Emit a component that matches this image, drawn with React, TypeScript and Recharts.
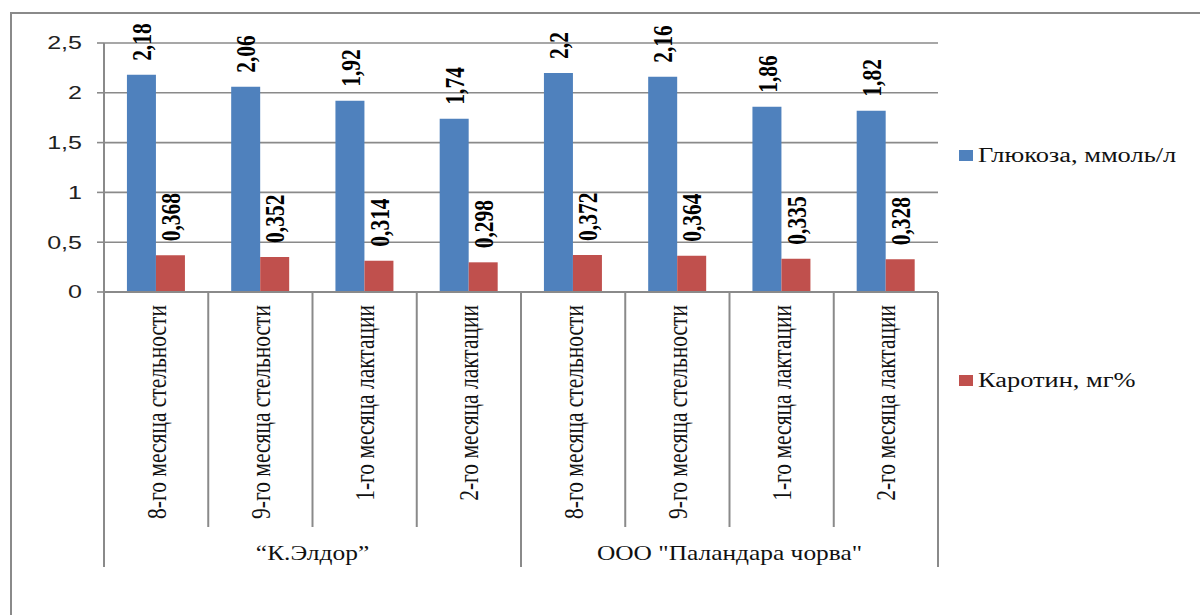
import React from 'react';
import { Bar, BarChart, CartesianGrid, LabelList, Legend, XAxis, YAxis } from 'recharts';

const categories = [
  '8-го месяца стельности',
  '9-го месяца стельности',
  '1-го месяца лактации',
  '2-го месяца лактации',
  '8-го месяца стельности',
  '9-го месяца стельности',
  '1-го месяца лактации',
  '2-го месяца лактации',
];
const farms = ['“К.Элдор”', 'ООО "Паландара  чорва"'];
const glucose = [2.18, 2.06, 1.92, 1.74, 2.2, 2.16, 1.86, 1.82];
const carotene = [0.368, 0.352, 0.314, 0.298, 0.372, 0.364, 0.335, 0.328];
const yTicks = [0, 0.5, 1, 1.5, 2, 2.5];

const data = categories.map((name, i) => ({
  name,
  farm: farms[Math.floor(i / 4)],
  glucose: glucose[i],
  carotene: carotene[i],
}));

// the source picture is stretched sideways, so text is widened to match
const STRETCH = 1.32;
const GRID = '#8a8a8a';
const SERIF = '"Liberation Serif", "Times New Roman", serif';
const SANS = '"Liberation Sans", Arial, sans-serif';

const fmt = (v: number) => String(v).replace('.', ',');

const YTick = (props: any) => {
  const { x, y, payload } = props;
  return (
    <text
      transform={`translate(${x},${y}) scale(${STRETCH},1)`}
      textAnchor="end"
      dominantBaseline="central"
      fontFamily={SANS}
      fontSize={19}
      fill="#222"
    >
      {fmt(payload.value)}
    </text>
  );
};

const CategoryTick = (props: any) => {
  const { x, y, payload, index } = props;
  const half = payload.offset || 52.1;
  const groupEnd = index % 4 === 3;
  return (
    <g>
      {index === 0 && (
        <line x1={x - half} y1={y} x2={x - half} y2={y + 275} stroke={GRID} strokeWidth={2} />
      )}
      <line x1={x + half} y1={y} x2={x + half} y2={y + (groupEnd ? 275 : 235)} stroke={GRID} strokeWidth={2} />
      <text
        transform={`translate(${x},${y + 13}) scale(${STRETCH},1) rotate(-90)`}
        textAnchor="end"
        dominantBaseline="central"
        fontFamily={SERIF}
        fontSize={21.5}
        fill="#111"
      >
        {payload.value}
      </text>
      {index % 4 === 0 && (
        <text
          transform={`translate(${x + 3 * half},${y + 261}) scale(1.24,1)`}
          textAnchor="middle"
          dominantBaseline="central"
          fontFamily={SERIF}
          fontSize={20.5}
          fill="#111"
        >
          {farms[index / 4]}
        </text>
      )}
    </g>
  );
};

const ValueLabel = (props: any) => {
  const { x, y, width, value } = props;
  return (
    <text
      transform={`translate(${x + width / 2},${y - 14}) scale(${STRETCH},1) rotate(-90)`}
      textAnchor="start"
      dominantBaseline="central"
      fontFamily={SERIF}
      fontWeight="bold"
      fontSize={21.5}
      fill="#000"
    >
      {fmt(value)}
    </text>
  );
};

const LegendContent = (props: any) => (
  <div style={{ position: 'relative' }}>
    {(props.payload || []).map((item: any, i: number) => (
      <div
        key={item.value}
        style={{
          position: 'absolute',
          left: 0,
          top: i * 225,
          display: 'flex',
          alignItems: 'center',
          whiteSpace: 'nowrap',
          height: 23,
        }}
      >
        <span style={{ display: 'inline-block', width: 14, height: 11, background: item.color }} />
        <span
          style={{
            display: 'inline-block',
            marginLeft: 5,
            fontFamily: SERIF,
            fontSize: 20,
            color: '#111',
            transform: `scaleX(${STRETCH})`,
            transformOrigin: 'left center',
          }}
        >
          {item.value}
        </span>
      </div>
    ))}
  </div>
);

const App: React.FunctionComponent = () => {
  return (
    <div style={{ position: 'absolute', left: 0, top: 0, width: 1200, height: 615, background: '#fff', overflow: 'hidden' }}>
      <div
        style={{
          position: 'absolute',
          left: 10,
          top: 12,
          width: 1200,
          height: 700,
          borderLeft: `2px solid ${GRID}`,
          borderTop: `2px solid ${GRID}`,
        }}
      />
      <div style={{ position: 'absolute', left: 0, top: 0 }}>
        <BarChart
          width={1200}
          height={615}
          data={data}
          margin={{ top: 43, right: 262, bottom: 0, left: 0 }}
          barCategoryGap="22%"
          barGap={0}
        >
          <CartesianGrid vertical={false} stroke={GRID} strokeWidth={1.6} />
          <XAxis
            dataKey="name"
            height={323}
            interval={0}
            tickLine={false}
            tickSize={0}
            tickMargin={0}
            axisLine={{ stroke: GRID, strokeWidth: 2 }}
            tick={<CategoryTick />}
          />
          <YAxis
            width={104}
            domain={[0, 2.5]}
            ticks={yTicks}
            tickSize={7}
            tickMargin={15}
            axisLine={{ stroke: GRID, strokeWidth: 2 }}
            tickLine={{ stroke: GRID, strokeWidth: 1.6 }}
            tick={<YTick />}
          />
          <Legend
            layout="vertical"
            align="right"
            verticalAlign="middle"
            wrapperStyle={{ left: 959, top: 144, width: 0, height: 0 }}
            content={<LegendContent />}
          />
          <Bar dataKey="glucose" name="Глюкоза, ммоль/л" fill="#4F81BD" isAnimationActive={false}>
            <LabelList dataKey="glucose" content={<ValueLabel />} />
          </Bar>
          <Bar dataKey="carotene" name="Каротин, мг%" fill="#C0504D" isAnimationActive={false}>
            <LabelList dataKey="carotene" content={<ValueLabel />} />
          </Bar>
        </BarChart>
      </div>
    </div>
  );
};

export default App;
